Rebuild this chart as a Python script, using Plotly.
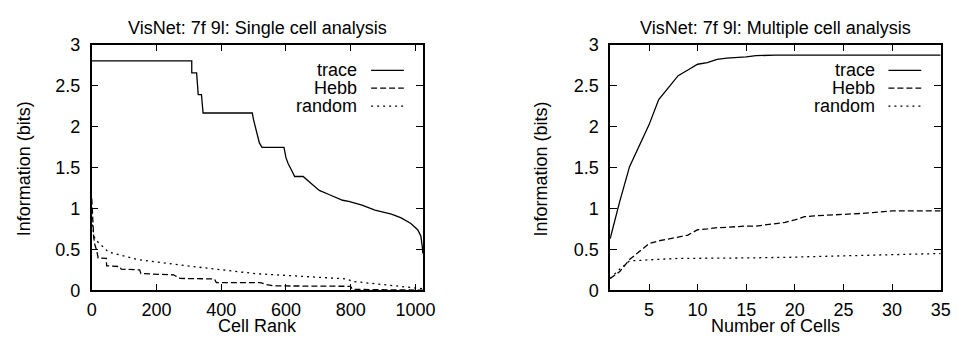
import plotly.graph_objects as go

# ---------------- data: single cell analysis ----------------
single_trace_x = [0, 309, 309, 324, 329, 339, 344, 496, 500, 505, 511, 518, 526, 594, 600, 607, 617, 627, 653, 673, 703, 733, 775, 794, 835, 875, 926, 956, 986, 1007, 1017, 1022, 1023]
single_trace_y = [2.80, 2.80, 2.655, 2.655, 2.39, 2.39, 2.165, 2.165, 2.08, 2.00, 1.93, 1.80, 1.745, 1.745, 1.62, 1.545, 1.47, 1.39, 1.39, 1.32, 1.22, 1.17, 1.10, 1.085, 1.04, 0.98, 0.93, 0.885, 0.816, 0.74, 0.66, 0.51, 0.45]

single_hebb_x = [0, 3, 6, 10, 15, 20, 45, 46, 87, 91, 148, 152, 253, 273, 379, 385, 521, 540, 562, 800, 805, 1023]
single_hebb_y = [1.12, 0.85, 0.65, 0.55, 0.49, 0.395, 0.39, 0.30, 0.29, 0.26, 0.25, 0.205, 0.19, 0.146, 0.14, 0.096, 0.096, 0.07, 0.055, 0.05, 0.012, 0.003]

single_random_x = [0, 3, 10, 51, 142, 294, 506, 789, 805, 900, 981, 1023]
single_random_y = [0.95, 0.75, 0.625, 0.47, 0.376, 0.30, 0.204, 0.14, 0.11, 0.07, 0.03, 0.02]

# ---------------- data: multiple cell analysis ----------------
n_cells = list(range(1, 36))
multi_trace_y = [0.63, 1.09, 1.51, 1.77, 2.02, 2.33, 2.48, 2.62, 2.69, 2.76, 2.78, 2.82, 2.835, 2.84, 2.85, 2.865,
                 2.87, 2.87, 2.87, 2.87, 2.87, 2.87, 2.87, 2.87, 2.87, 2.87, 2.87, 2.87, 2.87, 2.87, 2.87, 2.87, 2.87, 2.87, 2.87]
multi_hebb_y = [0.146, 0.23, 0.376, 0.47, 0.57, 0.605, 0.625, 0.65, 0.675, 0.74, 0.75, 0.765, 0.77, 0.78, 0.785, 0.785,
                0.80, 0.82, 0.83, 0.86, 0.90, 0.91, 0.915, 0.92, 0.93, 0.935, 0.94, 0.95, 0.96, 0.97, 0.97, 0.97, 0.97, 0.97, 0.97]
multi_random_y = [0.146, 0.26, 0.36, 0.368, 0.375, 0.38, 0.385, 0.39, 0.39, 0.393, 0.395, 0.395, 0.395, 0.395, 0.395, 0.397,
                  0.40, 0.40, 0.403, 0.405, 0.41, 0.413, 0.417, 0.42, 0.425, 0.428, 0.43, 0.433, 0.437, 0.44, 0.442, 0.444, 0.446, 0.448, 0.45]

series_names = ["trace", "Hebb", "random"]
y_ticks = [0, 0.5, 1, 1.5, 2, 2.5, 3]
y_tick_text = ["0", "0.5", "1", "1.5", "2", "2.5", "3"]
x_ticks_left = [0, 200, 400, 600, 800, 1000]
x_ticks_right = [5, 10, 15, 20, 25, 30, 35]

titles = ["VisNet: 7f 9l: Single cell analysis", "VisNet: 7f 9l: Multiple cell analysis"]
x_titles = ["Cell Rank", "Number of Cells"]
y_title = "Information (bits)"

# ---------------- styling ----------------
W, H = 962, 344
FONT = "Liberation Sans, Arial, Helvetica, sans-serif"
FS = 18
dashes = ["solid", "6px,3px", "2px,4px"]
LW = 1.3

left_dom = [88.3 / W, 425.7 / W]
right_dom = [616 / W, 952.5 / W]
y_dom = [1 - 297.7 / H, 1 - 36.7 / H]

fig = go.Figure()
single = [(single_trace_x, single_trace_y), (single_hebb_x, single_hebb_y), (single_random_x, single_random_y)]
multi = [multi_trace_y, multi_hebb_y, multi_random_y]
for i, (xs, ys) in enumerate(single):
    fig.add_trace(go.Scatter(x=xs, y=ys, mode="lines", name=series_names[i], showlegend=False,
                             line=dict(color="black", width=LW, dash=dashes[i]), xaxis="x", yaxis="y"))
for i, ys in enumerate(multi):
    fig.add_trace(go.Scatter(x=n_cells, y=ys, mode="lines", name=series_names[i], showlegend=False,
                             line=dict(color="black", width=LW, dash=dashes[i]), xaxis="x2", yaxis="y2"))

axis_common = dict(showline=True, linecolor="black", linewidth=1.5, mirror="ticks", ticks="inside",
                   ticklen=7, tickwidth=1.2, tickcolor="black", showgrid=False, zeroline=False,
                   tickfont=dict(family=FONT, size=FS, color="black"))

fig.update_layout(
    width=W, height=H, margin=dict(l=0, r=0, t=0, b=0),
    paper_bgcolor="white", plot_bgcolor="white",
    xaxis=dict(domain=left_dom, range=[0, 1024], tickvals=x_ticks_left, anchor="y", ticklabelstandoff=2, **axis_common),
    yaxis=dict(domain=y_dom, range=[0, 3], tickvals=y_ticks, ticktext=y_tick_text, anchor="x", ticklabelstandoff=6, **axis_common),
    xaxis2=dict(domain=right_dom, range=[1, 35], tickvals=x_ticks_right, anchor="y2", ticklabelstandoff=2, **axis_common),
    yaxis2=dict(domain=y_dom, range=[0, 3], tickvals=y_ticks, ticktext=y_tick_text, anchor="x2", ticklabelstandoff=6, **axis_common),
    showlegend=False,
)

ann = []
shapes = []
fnt = dict(family=FONT, size=FS, color="black")
centers = [(left_dom[0] + left_dom[1]) / 2, (right_dom[0] + right_dom[1]) / 2]
for k in range(2):
    ann.append(dict(text=titles[k], x=centers[k], y=1 - 19 / H, xref="paper", yref="paper",
                    xanchor="center", yanchor="middle", showarrow=False, font=fnt))
    ann.append(dict(text=x_titles[k], x=centers[k], y=1 - 336 / H, xref="paper", yref="paper",
                    xanchor="center", yanchor="middle", showarrow=False, font=fnt))
ytx = [19 / W, 545.5 / W]
for k in range(2):
    ann.append(dict(text=y_title, x=ytx[k], y=1 - 168.5 / H, xref="paper", yref="paper", textangle=-90,
                    xanchor="center", yanchor="middle", showarrow=False, font=fnt))

# legends (text then sample line, gnuplot style)
leg_text_right = [360.7, 887.3]
leg_line = [(372.7, 406.0), (899.3, 932.7)]
leg_rows = [64, 83, 102]
for k in range(2):
    for i, nm in enumerate(series_names):
        ann.append(dict(text=nm, x=leg_text_right[k] / W, y=1 - leg_rows[i] / H, xref="paper", yref="paper",
                        xanchor="right", yanchor="middle", showarrow=False, font=fnt))
        shapes.append(dict(type="line", xref="paper", yref="paper",
                           x0=leg_line[k][0] / W, x1=leg_line[k][1] / W,
                           y0=1 - leg_rows[i] / H, y1=1 - leg_rows[i] / H,
                           line=dict(color="black", width=LW, dash=dashes[i])))

fig.update_layout(annotations=ann, shapes=shapes)
fig.write_html("out.html", post_script="document.body.style.margin='0';document.body.style.overflow='hidden';")
